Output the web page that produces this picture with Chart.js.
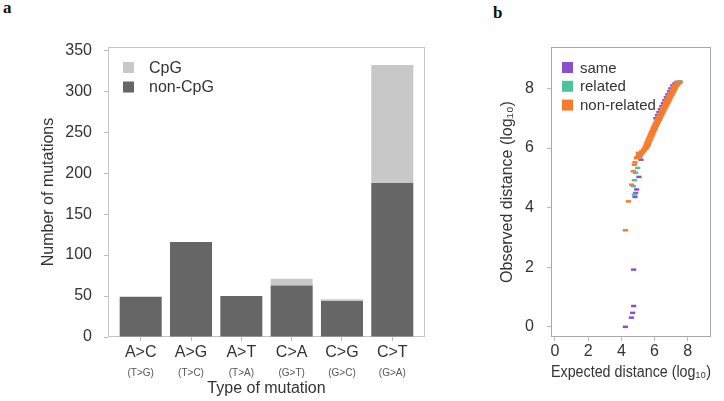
<!DOCTYPE html>
<html lang="en">
<head>
  <meta charset="UTF-8" />
  <title>Mutation types and distances</title>
  <script src="https://cdn.jsdelivr.net/npm/chart.js"></script>
  <style>
    html, body {
      margin: 0;
      padding: 0;
      background: #fff;
    }

    body {
      width: 724px;
      height: 401px;
      position: relative;
      overflow: hidden;
      font-family: "Liberation Sans", Arial, sans-serif;
    }

    .panel-label {
      position: absolute;
      font-family: "Liberation Serif", "Times New Roman", serif;
      font-weight: 700;
      font-size: 17px;
      line-height: 17px;
      color: #111;
    }

    #wrapA { position: absolute; left: 0; top: 0; width: 470px; height: 401px; }
    #wrapB { position: absolute; left: 470px; top: 0; width: 254px; height: 401px; }
  </style>
</head>
<body>

  <div class="panel-label" style="left:3px; top:-1px;">a</div>
  <div class="panel-label" style="left:493px; top:4px;">b</div>

  <div id="wrapA"><canvas id="mutChart"></canvas></div>
  <div id="wrapB"><canvas id="distChart"></canvas></div>

<script>
  // ---- panel a data ----
  const mutationTypes = ['A>C', 'A>G', 'A>T', 'C>A', 'C>G', 'C>T'];
  const complementTypes = ['(T>G)', '(T>C)', '(T>A)', '(G>T)', '(G>C)', '(G>A)'];
  const nonCpgCounts = [49, 116, 50, 63, 44, 188];
  const cpgCounts = [0, 0, 0, 8, 2, 144];
  const countTicks = [0, 50, 100, 150, 200, 250, 300, 350];

  // ---- panel b data: [expected, observed] in log10 ----
  const sameBand = [
    [6.15, 7.00], [6.25, 7.10], [6.33, 7.20], [6.42, 7.30], [6.51, 7.40], [6.60, 7.50],
    [6.69, 7.60], [6.78, 7.70], [6.87, 7.80], [6.97, 7.90], [7.05, 8.00], [7.17, 8.10],
    [7.30, 8.17], [7.42, 8.22]
  ];
  const sameScatter = [
    [5.18, 5.61], [5.06, 5.03], [4.92, 4.61], [4.86, 4.49], [4.82, 4.36],
    [4.74, 1.92], [4.74, 0.70], [4.68, 0.47], [4.60, 0.31], [4.24, 0.00]
  ];
  const relatedBand = [];
  const relatedScatter = [
    [5.08, 5.78], [5.12, 5.72], [4.98, 5.33], [4.86, 5.17], [4.78, 4.92],
    [4.72, 4.72], [4.78, 4.44], [7.52, 8.24]
  ];
  const nonRelatedBand = [
    [5.02, 5.70], [5.10, 5.76], [5.20, 5.83], [5.30, 5.90], [5.42, 5.97], [5.50, 6.04],
    [5.56, 6.11], [5.60, 6.18], [5.66, 6.25], [5.71, 6.32], [5.77, 6.39], [5.82, 6.46],
    [5.87, 6.53], [5.93, 6.60], [5.98, 6.67], [6.04, 6.74], [6.10, 6.81], [6.16, 6.88],
    [6.23, 6.95], [6.29, 7.02], [6.36, 7.09], [6.42, 7.16], [6.48, 7.23], [6.55, 7.30],
    [6.61, 7.37], [6.67, 7.44], [6.74, 7.51], [6.80, 7.58], [6.86, 7.65], [6.92, 7.72],
    [6.99, 7.79], [7.05, 7.86], [7.12, 7.93], [7.18, 8.00], [7.25, 8.07], [7.32, 8.12],
    [7.40, 8.17], [7.48, 8.21]
  ];
  const nonRelatedScatter = [
    [5.02, 5.84], [4.90, 5.66], [4.82, 5.52], [4.78, 5.44], [4.72, 5.22],
    [4.62, 4.77], [4.42, 4.21], [4.24, 3.24]
  ];
  const distTicks = [0, 2, 4, 6, 8];

  Chart.defaults.font.family = '"Liberation Sans", Arial, sans-serif';
  Chart.defaults.color = '#333';

  // grey frame round the plot area
  const boxFrame = {
    id: 'boxFrame',
    beforeDatasetsDraw(chart, args, opts) {
      const { left, top, right, bottom } = chart.chartArea;
      const ctx = chart.ctx;
      ctx.save();
      ctx.strokeStyle = opts.color;
      ctx.lineWidth = 1;
      ctx.strokeRect(Math.round(left) + 0.5, Math.round(top) + 0.5,
                     Math.round(right - left) - 1, Math.round(bottom - top) - 1);
      ctx.restore();
    }
  };

  // legend drawn inside the plot area, top-left
  const insetLegend = {
    id: 'insetLegend',
    afterDatasetsDraw(chart, args, opts) {
      const ctx = chart.ctx;
      const { left, top } = chart.chartArea;
      ctx.save();
      ctx.font = opts.fontSize + 'px "Liberation Sans", Arial, sans-serif';
      ctx.textBaseline = 'middle';
      opts.order.forEach((di, k) => {
        const ds = chart.data.datasets[di];
        const bx = left + opts.dx;
        const by = top + opts.dy + k * opts.gap;
        ctx.fillStyle = ds.backgroundColor;
        ctx.fillRect(bx, by, opts.box, opts.box);
        ctx.fillStyle = '#333';
        ctx.fillText(ds.label, bx + opts.textGap, by + opts.box / 2 + 1);
      });
      ctx.restore();
    }
  };

  const tickGrid = { drawOnChartArea: false, drawTicks: true, tickLength: 4, color: '#bbb', offset: false };

  // PANEL A - stacked bars
  const xMin = -0.65, xMax = mutationTypes.length - 1 + 0.65;
  const setCategoryTicks = s => { s.ticks = mutationTypes.map((t, i) => ({ value: i })); };

  new Chart(document.getElementById('mutChart'), {
    type: 'bar',
    data: {
      datasets: [
        {
          label: 'non-CpG',
          data: nonCpgCounts.map((v, i) => ({ x: i, y: v })),
          backgroundColor: '#666666',
          barPercentage: 0.835,
          categoryPercentage: 1
        },
        {
          label: 'CpG',
          data: cpgCounts.map((v, i) => ({ x: i, y: v })),
          backgroundColor: '#c8c8c8',
          barPercentage: 0.835,
          categoryPercentage: 1
        }
      ]
    },
    plugins: [boxFrame, insetLegend],
    options: {
      responsive: true,
      maintainAspectRatio: false,
      animation: false,
      layout: { padding: { top: 47, right: 45, left: 0, bottom: 0 } },
      plugins: {
        legend: { display: false },
        tooltip: { enabled: false },
        boxFrame: { color: '#c4c4c4' },
        insetLegend: { order: [1, 0], dx: 15, dy: 15, gap: 19.5, box: 11, textGap: 26, fontSize: 16 }
      },
      scales: {
        x: {
          type: 'linear',
          min: xMin,
          max: xMax,
          stacked: true,
          offset: false,
          afterBuildTicks: setCategoryTicks,
          afterFit: s => { s.height = 22; },
          ticks: {
            autoSkip: false,
            maxRotation: 0,
            padding: 2,
            font: { size: 16 },
            color: '#333',
            callback: (v, i) => mutationTypes[i]
          },
          grid: tickGrid,
          border: { display: false }
        },
        x2: {
          type: 'linear',
          position: 'bottom',
          min: xMin,
          max: xMax,
          offset: false,
          afterBuildTicks: setCategoryTicks,
          afterFit: s => { s.height = 42; },
          ticks: {
            autoSkip: false,
            maxRotation: 0,
            padding: 0,
            font: { size: 10 },
            color: '#555',
            callback: (v, i) => complementTypes[i]
          },
          grid: { display: false },
          border: { display: false },
          title: {
            display: true,
            text: 'Type of mutation',
            font: { size: 16 },
            color: '#333',
            padding: { top: 0, bottom: 3 }
          }
        },
        y: {
          stacked: true,
          min: 0,
          max: 354,
          afterBuildTicks: s => { s.ticks = countTicks.map(v => ({ value: v })); },
          afterFit: s => { s.width = 108; },
          ticks: { padding: 12, font: { size: 16 }, color: '#333' },
          grid: tickGrid,
          border: { display: false },
          title: {
            display: true,
            text: 'Number of mutations',
            font: { size: 16 },
            color: '#333',
            padding: { top: 39, bottom: 0 }
          }
        }
      }
    }
  });

  // PANEL B - observed vs expected distance
  const toXY = pts => pts.map(([x, y]) => ({ x, y }));
  // dashes in the dense band are drawn a bit longer than the isolated ones
  const dashSize = bandLen => c => (c.dataIndex < bandLen ? 3.8 : 2.6);

  new Chart(document.getElementById('distChart'), {
    type: 'scatter',
    data: {
      datasets: [
        {
          label: 'same',
          data: toXY(sameBand.concat(sameScatter)),
          borderColor: '#8a4fcf', backgroundColor: '#8a4fcf',
          pointRadius: dashSize(sameBand.length), order: 2
        },
        {
          label: 'related',
          data: toXY(relatedBand.concat(relatedScatter)),
          borderColor: '#4cc39b', backgroundColor: '#4cc39b',
          pointRadius: dashSize(relatedBand.length), order: 1
        },
        {
          label: 'non-related',
          data: toXY(nonRelatedBand.concat(nonRelatedScatter)),
          borderColor: '#f57c2e', backgroundColor: '#f57c2e',
          pointRadius: dashSize(nonRelatedBand.length), order: 0
        }
      ]
    },
    plugins: [boxFrame, insetLegend],
    options: {
      responsive: true,
      maintainAspectRatio: false,
      animation: false,
      layout: { padding: { top: 47, right: 13, left: 0, bottom: 0 } },
      elements: { point: { pointStyle: 'line', borderWidth: 2.5 } },
      plugins: {
        legend: { display: false },
        tooltip: { enabled: false },
        boxFrame: { color: '#a8a8a8' },
        insetLegend: { order: [0, 1, 2], dx: 11, dy: 15, gap: 18.8, box: 11, textGap: 18, fontSize: 15 }
      },
      scales: {
        x: {
          type: 'linear',
          min: -0.24,
          max: 9.4,
          afterBuildTicks: s => { s.ticks = distTicks.map(v => ({ value: v })); },
          afterFit: s => { s.height = 64; },
          ticks: { padding: 1, font: { size: 16 }, color: '#333' },
          grid: tickGrid,
          border: { display: false },
          title: {
            display: true,
            text: 'Expected distance (log₁₀)',
            font: { size: 16 },
            color: '#333',
            padding: { top: 0, bottom: 19 }
          }
        },
        y: {
          type: 'linear',
          min: -0.34,
          max: 9.39,
          afterBuildTicks: s => { s.ticks = distTicks.map(v => ({ value: v })); },
          afterFit: s => { s.width = 81; },
          ticks: { padding: 13, font: { size: 16 }, color: '#333' },
          grid: tickGrid,
          border: { display: false },
          title: {
            display: true,
            text: 'Observed distance (log₁₀)',
            font: { size: 16 },
            color: '#333',
            padding: { top: 28, bottom: 0 }
          }
        }
      }
    }
  });
</script>
</body>
</html>
